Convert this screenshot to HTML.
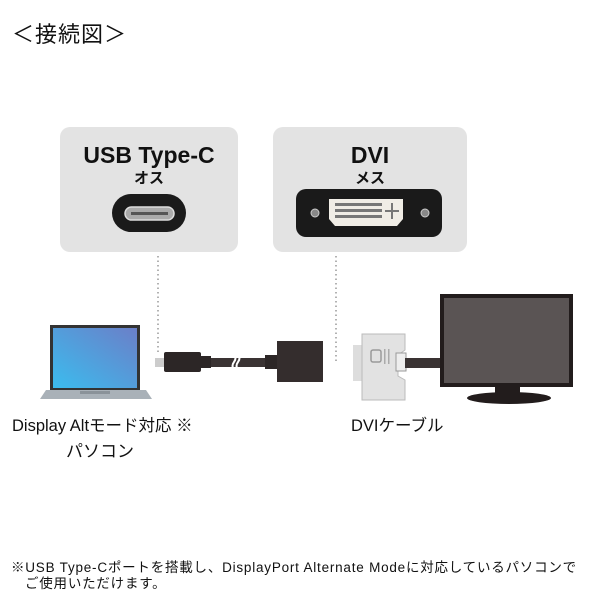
<!DOCTYPE html>
<html><head><meta charset="utf-8"><style>
body{margin:0;width:600px;height:600px;background:#fff;position:relative;overflow:hidden;font-family:"Liberation Sans","Noto Sans CJK JP",sans-serif;color:#111}
.a{position:absolute}
.box{position:absolute;background:#e3e3e3;border-radius:10px}
.t{position:absolute;font-weight:bold;text-align:center;white-space:nowrap}
</style></head><body>
<div class="a" style="left:12px;top:17px;font-size:22px;letter-spacing:1px">＜接続図＞</div>

<div class="box" style="left:60px;top:127px;width:178px;height:125px"></div>
<div class="box" style="left:273px;top:127px;width:194px;height:125px"></div>
<div class="t" style="left:60px;width:178px;top:142px;font-size:23px">USB Type-C</div>
<div class="t" style="left:60px;width:178px;top:167px;font-size:15px">オス</div>
<div class="t" style="left:273px;width:194px;top:142px;font-size:23px">DVI</div>
<div class="t" style="left:273px;width:194px;top:167px;font-size:15px">メス</div>

<svg class="a" style="left:0;top:0" width="600" height="600">
<rect x="112" y="194" width="74" height="38" rx="19" fill="#1a1a1a"/>
<rect x="125" y="207" width="49" height="13" rx="6.5" fill="#aaa" stroke="#ddd" stroke-width="1.5"/>
<rect x="131" y="212" width="37" height="3" fill="#555"/>
<rect x="296" y="189" width="146" height="48" rx="10" fill="#1a1a1a"/>
<circle cx="315" cy="213" r="4" fill="#888" stroke="#ccc"/>
<circle cx="425" cy="213" r="4" fill="#888" stroke="#ccc"/>
<path d="M329 199 H403 V219 L397 226 H335 L329 219 Z" fill="#f0ede6"/>
<g fill="#777">
<rect x="335" y="203" width="47" height="3"/><rect x="335" y="209" width="47" height="3"/><rect x="335" y="215" width="47" height="3"/>
<rect x="391" y="203" width="2" height="16"/><rect x="385" y="210" width="14" height="2"/>
</g>
<line x1="158" y1="256" x2="158" y2="352" stroke="#999" stroke-width="1.5" stroke-dasharray="1.5 3"/>
<line x1="336" y1="256" x2="336" y2="362" stroke="#999" stroke-width="1.5" stroke-dasharray="1.5 3"/>
<defs><linearGradient id="g" x1="0" y1="1" x2="1" y2="0"><stop offset="0" stop-color="#3bbcee"/><stop offset="1" stop-color="#6b7fc8"/></linearGradient></defs>
<rect x="50" y="325" width="90" height="66" fill="#333"/>
<rect x="53" y="328" width="84" height="60" fill="url(#g)"/>
<path d="M46 390 H146 L152 399 H40 Z" fill="#a9b1b8"/>
<rect x="80" y="391" width="30" height="3" fill="#8a9299"/>
<rect x="155" y="358" width="9" height="9" fill="#ccc"/>
<rect x="164" y="352" width="37" height="20" rx="2" fill="#2c2626"/>
<rect x="201" y="356" width="10" height="12" fill="#2c2626"/>
<rect x="211" y="358" width="56" height="9" fill="#3a3333"/>
<path d="M234 354 q3 4 0 8 q-3 4 0 8 M238 354 q3 4 0 8 q-3 4 0 8" stroke="#fff" stroke-width="2" fill="none"/>
<rect x="265" y="355" width="12" height="14" fill="#2c2626"/>
<rect x="277" y="341" width="46" height="41" fill="#342d2d"/>
<rect x="353" y="345" width="10" height="36" fill="#ddd"/>
<path d="M362 334 H405 V350 L398 355 V376 L405 380 V400 H362 Z" fill="#e2e2e2" stroke="#bbb"/>
<rect x="371" y="350" width="10" height="12" rx="2" fill="none" stroke="#999" stroke-width="1.5"/>
<rect x="384" y="349" width="1.5" height="15" fill="#aaa"/><rect x="388" y="349" width="1.5" height="15" fill="#aaa"/>
<rect x="396" y="353" width="10" height="18" fill="#eee" stroke="#999"/>
<rect x="405" y="358" width="36" height="10" fill="#3a3333"/>
<rect x="440" y="294" width="133" height="93" fill="#221c1c"/>
<rect x="444" y="298" width="125" height="85" fill="#5a5454"/>
<rect x="495" y="386" width="25" height="9" fill="#221c1c"/>
<ellipse cx="509" cy="398" rx="42" ry="6" fill="#221c1c"/>
</svg>

<div class="a" style="left:12px;top:412px;font-size:16.5px;white-space:nowrap">Display Altモード対応 ※</div>
<div class="a" style="left:66px;top:437px;font-size:17px">パソコン</div>
<div class="a" style="left:351px;top:412px;font-size:16.5px">DVIケーブル</div>

<div class="a" style="left:11px;top:556px;font-size:13.5px;letter-spacing:0.78px;white-space:nowrap">※USB Type-Cポートを搭載し、DisplayPort Alternate Modeに対応しているパソコンで</div>
<div class="a" style="left:25px;top:572px;font-size:13.5px;letter-spacing:0.78px">ご使用いただけます。</div>
</body></html>
